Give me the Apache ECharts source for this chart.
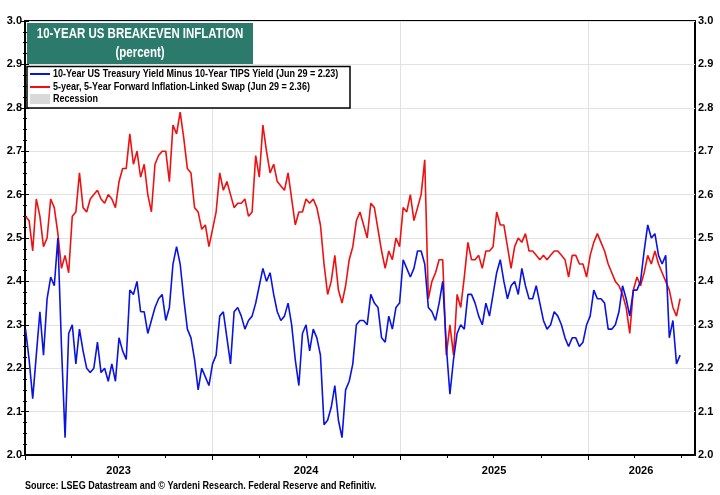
<!DOCTYPE html>
<html><head><meta charset="utf-8">
<script src="https://cdn.jsdelivr.net/npm/echarts@6/dist/echarts.min.js"></script>
<style>html,body{margin:0;padding:0;background:#fff}#c{width:720px;height:495px}</style>
</head><body><div id="c"></div>
<script>
const FONT = "'Liberation Sans',Arial,sans-serif";
const NARROW = 0.82; // horizontal squeeze to mimic the narrow face of the original

// weekly observations, first week below, one value per week
const firstWeek = '2023-01-02';
const breakeven10y = [
2.29,2.22,2.13,2.23,2.33,2.23,2.36,2.41,2.39,2.50,2.25,2.04,2.28,2.30,2.21,2.29,2.24,2.20,2.19,2.20,
2.26,2.19,2.20,2.17,2.21,2.17,2.27,2.24,2.22,2.38,2.37,2.40,2.33,2.33,2.28,2.31,2.34,2.36,2.37,2.31,
2.34,2.44,2.48,2.44,2.36,2.29,2.27,2.22,2.15,2.20,2.18,2.16,2.21,2.23,2.32,2.33,2.27,2.21,2.33,2.34,
2.32,2.29,2.31,2.32,2.35,2.39,2.43,2.40,2.42,2.37,2.33,2.31,2.32,2.35,2.30,2.22,2.16,2.28,2.30,2.24,
2.29,2.27,2.23,2.07,2.08,2.11,2.16,2.08,2.04,2.15,2.17,2.21,2.30,2.31,2.31,2.30,2.37,2.35,2.34,2.27,
2.26,2.32,2.29,2.34,2.35,2.45,2.43,2.41,2.43,2.47,2.47,2.44,2.34,2.33,2.31,2.35,2.40,2.25,2.14,2.22,
2.28,2.30,2.29,2.37,2.37,2.35,2.32,2.30,2.35,2.32,2.37,2.42,2.45,2.40,2.36,2.39,2.40,2.37,2.43,2.39,
2.36,2.36,2.39,2.35,2.31,2.29,2.30,2.33,2.32,2.30,2.27,2.25,2.27,2.27,2.25,2.26,2.30,2.32,2.38,2.36,
2.36,2.35,2.29,2.29,2.30,2.33,2.39,2.36,2.32,2.38,2.38,2.40,2.47,2.53,2.50,2.51,2.46,2.44,2.46,2.27,
2.31,2.21,2.23
];
const swap5y5y = [
2.55,2.54,2.47,2.59,2.55,2.48,2.50,2.59,2.57,2.51,2.43,2.46,2.42,2.55,2.56,2.65,2.57,2.56,2.59,2.60,
2.61,2.59,2.58,2.60,2.59,2.57,2.63,2.66,2.66,2.74,2.67,2.70,2.64,2.67,2.60,2.56,2.67,2.69,2.70,2.70,
2.63,2.76,2.74,2.79,2.73,2.66,2.65,2.57,2.56,2.52,2.53,2.48,2.52,2.56,2.65,2.61,2.63,2.60,2.57,2.58,
2.58,2.59,2.55,2.56,2.69,2.64,2.76,2.70,2.65,2.67,2.63,2.62,2.61,2.65,2.59,2.53,2.56,2.56,2.59,2.58,
2.59,2.57,2.53,2.44,2.37,2.40,2.46,2.38,2.35,2.39,2.45,2.48,2.54,2.56,2.53,2.50,2.58,2.57,2.52,2.47,
2.43,2.47,2.45,2.50,2.48,2.57,2.56,2.60,2.54,2.57,2.60,2.68,2.36,2.40,2.42,2.45,2.45,2.23,2.30,2.23,
2.37,2.34,2.41,2.49,2.45,2.45,2.46,2.43,2.47,2.47,2.48,2.56,2.53,2.53,2.48,2.43,2.48,2.50,2.49,2.51,
2.47,2.47,2.46,2.45,2.46,2.45,2.46,2.47,2.47,2.46,2.45,2.41,2.46,2.46,2.44,2.44,2.41,2.46,2.49,2.51,
2.49,2.47,2.44,2.42,2.40,2.39,2.37,2.34,2.28,2.38,2.41,2.39,2.42,2.46,2.44,2.47,2.44,2.42,2.40,2.38,
2.34,2.32,2.36
];
const yearTicks = ['2023-01-01','2024-01-01','2025-01-01','2026-01-01'];
const quarterTicks = ['2023-04-01','2023-07-01','2023-10-01','2024-04-01','2024-07-01','2024-10-01',
  '2025-04-01','2025-07-01','2025-10-01','2026-04-01','2026-07-01'];
const yearLabelAt = ['2023-07-02','2024-07-01','2025-07-02','2026-04-14'];
const yearLabels = ['2023','2024','2025','2026'];
const xStart = '2023-01-01', xEnd = '2026-07-28';
const seriesNames = ['10-Year US Treasury Yield Minus 10-Year TIPS Yield (Jun 29 = 2.23)',
  '5-year, 5-Year Forward Inflation-Linked Swap (Jun 29 = 2.36)', 'Recession'];

// x axis counts days since xStart
const DAY = 86400000;
function dayOf(s){ return Math.round((new Date(s).getTime() - new Date(xStart).getTime()) / DAY); }
const w0 = dayOf(firstWeek);
const weekDays = breakeven10y.map((_, i) => w0 + i * 7);
const labelDays = yearLabelAt.map(dayOf);

const chart = echarts.init(document.getElementById('c'), null, {renderer:'canvas'});
const yAxisBase = {
  type:'value', min:2, max:3, interval:0.1,
  axisLine:{show:true, lineStyle:{color:'#000', width:2}},
  axisTick:{show:true, length:4, lineStyle:{color:'#000'}},
  minorTick:{show:true, splitNumber:4, length:2, lineStyle:{color:'#000'}},
  axisLabel:{color:'#000', fontFamily:FONT, fontWeight:'bold', fontSize:11, margin:3,
    formatter: v => v.toFixed(1)},
};
function txt(x, y, s, size, color, align){
  return {type:'text', z:101, x:x, y:y, scaleX:NARROW,
    style:{text:s, fill:color, font:'bold '+size+'px '+FONT, align:align || 'left', verticalAlign:'middle'}};
}
chart.setOption({
  animation:false,
  backgroundColor:'#fff',
  grid:{left:25, right:25, top:21, bottom:40, show:true, borderColor:'#000', borderWidth:2},
  xAxis:[{
    type:'value', min:0, max:dayOf(xEnd),
    axisLine:{show:true, onZero:false, lineStyle:{color:'#000', width:2}},
    axisTick:{show:true, length:5, customValues:yearTicks.map(dayOf), lineStyle:{color:'#000'}},
    splitLine:{show:true, lineStyle:{color:'#e2e2e2', width:1}},
    axisLabel:{show:true, customValues:labelDays, color:'#000', fontFamily:FONT,
      fontWeight:'bold', fontSize:11, margin:10,
      formatter: v => { const k = labelDays.indexOf(Math.round(v)); return k >= 0 ? yearLabels[k] : ''; }}
  },{
    type:'value', min:0, max:dayOf(xEnd), position:'bottom',
    axisLine:{show:false, onZero:false},
    axisTick:{show:true, length:3, customValues:quarterTicks.map(dayOf), lineStyle:{color:'#000'}},
    splitLine:{show:false}, axisLabel:{show:false}
  }],
  yAxis:[
    Object.assign({}, yAxisBase, {position:'left',
      splitLine:{show:true, lineStyle:{color:'#e2e2e2', width:1}}}),
    Object.assign({}, yAxisBase, {position:'right', splitLine:{show:false}})
  ],
  series:[{
    name:seriesNames[0], type:'line', showSymbol:false, symbol:'none',
    lineStyle:{color:'#0a14e0', width:1.6}, itemStyle:{color:'#0a14e0'},
    data: breakeven10y.map((v,i) => [weekDays[i], v]), z:3
  },{
    name:seriesNames[1], type:'line', showSymbol:false, symbol:'none',
    lineStyle:{color:'#ee1111', width:1.6}, itemStyle:{color:'#ee1111'},
    data: swap5y5y.map((v,i) => [weekDays[i], v]), z:2
  }],
  graphic:[
    {type:'rect', z:100, shape:{x:27, y:23, width:226, height:41}, style:{fill:'#2b7a6b'}},
    txt(140, 34, '10-YEAR US BREAKEVEN INFLATION', 14, '#fff', 'center'),
    txt(140, 53, '(percent)', 14, '#fff', 'center'),
    {type:'rect', z:100, shape:{x:27, y:66.5, width:323, height:41.5},
      style:{fill:'#fff', stroke:'#000', lineWidth:1.5}},
    {type:'line', z:101, shape:{x1:30, y1:74, x2:50, y2:74}, style:{stroke:'#0a14e0', lineWidth:2}},
    {type:'line', z:101, shape:{x1:30, y1:87, x2:50, y2:87}, style:{stroke:'#ee1111', lineWidth:2}},
    {type:'rect', z:101, shape:{x:30, y:94, width:20, height:10}, style:{fill:'#d9d9d9'}},
    txt(53, 74, seriesNames[0], 11, '#000'),
    txt(53, 87, seriesNames[1], 11, '#000'),
    txt(53, 99, seriesNames[2], 11, '#000'),
    txt(25, 486, 'Source: LSEG Datastream and \u00A9 Yardeni Research. Federal Reserve and Refinitiv.', 11, '#000')
  ]
});
</script></body></html>
